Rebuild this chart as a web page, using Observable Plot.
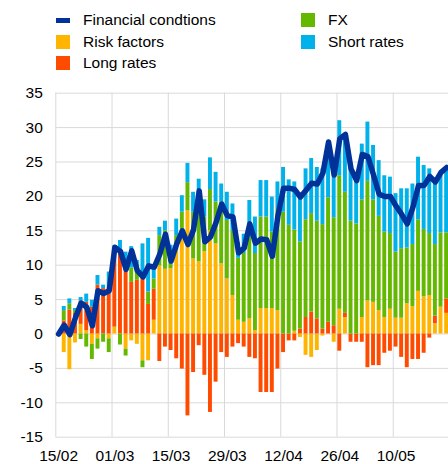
<!DOCTYPE html>
<html><head><meta charset="utf-8">
<script src="https://cdn.jsdelivr.net/npm/d3@7"></script>
<script src="https://cdn.jsdelivr.net/npm/@observablehq/plot@0.6"></script>
<style>
body{margin:0;background:#fff;font-family:Arial,"Liberation Sans",sans-serif;}
#legend{position:relative;height:80px;width:448px;font-size:15.5px;color:#000;}
.item{position:absolute;height:14px;display:flex;align-items:center;white-space:nowrap;}
.sw{width:14px;height:14px;margin-right:13px;flex:none}
.ln{width:14px;height:5px;margin-right:13px;flex:none}
#chart svg{display:block}
</style></head><body>
<div id="legend"></div><div id="chart"></div>
<script>
// ---- data ----
const tickLabels = ["15/02","01/03","15/03","29/03","12/04","26/04","10/05"];
const seriesNames = ["Risk factors","Long rates","FX","Short rates"];
const seriesColors = ["#FFB400","#FF4B00","#65B800","#00B1EA"];
const lineName = "Financial condtions";
const lineColor = "#003299";

const riskFactors = [0,-2.7,-5.2,-1.3,1.4,0.5,-1.5,-0.7,0,-0.7,
 1.0,0,-2.2,-1.0,-1.5,-3.9,-3.9,2.0,9.9,9.4,
 9.5,12.1,14.7,17.9,10.9,10.5,12.0,15.0,13.1,10.2,
 8.0,5.6,2.0,1.7,2.2,0.5,3.7,3.7,3.7,3.4,
 0,0,0.4,-0.5,-3.1,-3.4,-2.4,-0.3,0,-1.2,
 3.6,2.4,0,0,2.4,4.8,4.6,3.4,2.4,3.6,
 2.3,2.3,4.4,4.0,6.2,5.4,5.6,1.5,3.9,3.0];
const longRates = [0,1.9,3.5,3.0,3.4,4.1,3.9,7.1,6.6,6.8,
 10.2,12.3,10.7,7.5,7.8,8.6,4.3,4.5,-4.0,-1.9,
 -2.4,-3.6,-5.1,-11.9,-5.6,-1.7,-6.0,-11.4,-7.0,-2.7,
 -3.4,-1.9,-1.4,-1.9,-3.4,-3.6,-8.5,-8.5,-8.5,-5.1,
 -2.7,-1.0,-1.0,0.7,2.4,3.2,2.2,0.7,1.7,1.2,
 -2.5,0.6,-1.2,-1.2,-1.2,-4.9,-4.6,-4.6,-2.8,-2.5,
 -1.9,-3.4,-4.9,-3.7,-3.7,-2.8,-0.6,1.1,0,2.1];
const fxValues = [0,1.5,0.9,0.4,-0.8,-1.9,-2.2,-1.5,-1.2,-2.0,
 0.4,-1.6,-1.0,2.1,1.9,-1.0,1.8,1.5,4.4,5.6,
 2.7,2.2,3.0,4.1,6.8,8.0,5.0,6.0,6.1,9.0,
 8.5,9.4,9.0,10.0,11.8,11.2,13.3,13.3,11.1,14.7,
 17.7,15.8,14.7,12.7,14.2,14.3,14.2,15.2,18.1,15.7,
 19.4,17.6,16.4,16.0,17.1,17.4,14.9,13.7,12.4,11.0,
 9.6,10.1,8.1,9.0,10.4,9.8,9.0,10.4,10.8,9.6];
const shortRates = [0,0.6,0.7,0.3,0.5,1.2,1.0,1.4,0.5,2.2,
 1.2,1.3,1.2,3.1,1.0,4.5,7.8,1.7,1.2,1.4,
 0.7,2.4,2.4,2.8,2.9,4.0,2.5,4.6,4.3,2.6,
 4.1,3.9,2.3,2.8,5.4,5.3,5.3,5.3,5.1,4.0,
 6.5,6.6,7.0,6.8,7.4,8.0,7.8,8.1,8.2,7.3,
 8.0,8.3,8.1,7.0,8.1,8.6,7.9,8.1,8.2,8.2,
 8.5,8.7,8.6,8.8,9.1,9.3,9.4,9.3,8.3,9.3];
const financialConditions = [0,1.3,-0.1,2.4,4.5,3.9,1.2,6.3,5.9,6.3,
 12.6,12.0,9.4,12.1,9.2,8.3,9.9,9.7,11.6,14.5,
 10.6,13.1,15.0,13.0,15.2,20.8,13.4,14.1,16.2,18.9,
 17.2,17.0,11.8,12.5,16.0,13.2,13.8,13.7,11.3,17.2,
 21.2,21.2,21.0,19.9,20.9,21.9,21.8,23.4,27.9,23.1,
 28.4,29.0,24.0,22.3,26.1,25.8,23.1,20.3,20.0,20.0,
 18.6,17.4,16.0,18.4,21.6,21.6,22.9,22.1,23.5,24.2];
const yTicks = [-15,-10,-5,0,5,10,15,20,25,30,35];

// ---- legend ----
const legend = document.getElementById("legend");
const legendItems = [
  {name: lineName, color: lineColor, line: true, left: 56, top: 13},
  {name: seriesNames[0], color: seriesColors[0], left: 56, top: 35},
  {name: seriesNames[1], color: seriesColors[1], left: 56, top: 56},
  {name: seriesNames[2], color: seriesColors[2], left: 301, top: 13},
  {name: seriesNames[3], color: seriesColors[3], left: 301, top: 35}
];
for (const it of legendItems) {
  const d = document.createElement("div");
  d.className = "item";
  d.style.left = it.left + "px"; d.style.top = it.top + "px";
  const s = document.createElement("span");
  s.className = it.line ? "ln" : "sw";
  s.style.background = it.color;
  const t = document.createElement("span");
  t.textContent = it.name;
  d.appendChild(s); d.appendChild(t);
  legend.appendChild(d);
}

// ---- chart data table ----
const seriesArrays = [riskFactors, longRates, fxValues, shortRates];
const rows = [];
for (let i = 0; i < financialConditions.length; i++) {
  seriesArrays.forEach((arr, k) => rows.push({i, x1: i, x2: i + 1, series: seriesNames[k], value: arr[i]}));
}
const lineRows = financialConditions.map((v, i) => ({xc: i + 0.5, value: v}));

const chart = Plot.plot({
  width: 448, height: 384,
  marginLeft: 55.3, marginRight: 0, marginTop: 12.7, marginBottom: 27.3,
  style: {fontFamily: "Arial, 'Liberation Sans', sans-serif", fontSize: "15.5px", color: "#000", background: "#fff"},
  x: {type: "linear", domain: [0, 69.83], ticks: tickLabels.map((_, k) => k * 10 + 0.5),
      tickFormat: d => tickLabels[Math.round((d - 0.5) / 10)], tickSize: 0, tickPadding: 13, label: null, line: false},
  y: {domain: [-15, 35], ticks: yTicks, tickFormat: d => String(d), tickSize: 0, tickPadding: 13, label: null},
  color: {domain: seriesNames, range: seriesColors},
  marks: [
    Plot.ruleY(yTicks, {stroke: "#d9d9d9", strokeWidth: 1}),
    Plot.ruleX(tickLabels.map((_, k) => k * 10), {stroke: "#d9d9d9", strokeWidth: 1}),
    Plot.rectY(rows, Plot.stackY({x1: "x1", x2: "x2", y: "value", fill: "series", insetLeft: 0.85, insetRight: 0.85})),
    Plot.line(lineRows, {x: "xc", y: "value", stroke: lineColor, strokeWidth: 5.5, strokeLinejoin: "round", strokeLinecap: "round"})
  ]
});
document.getElementById("chart").appendChild(chart);
</script></body></html>
